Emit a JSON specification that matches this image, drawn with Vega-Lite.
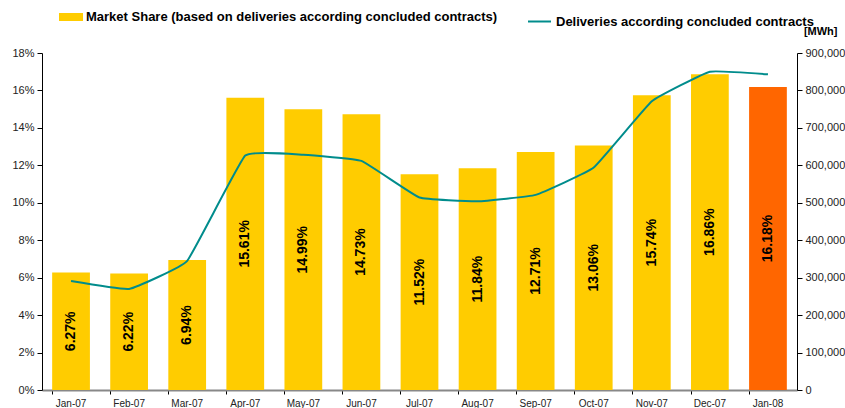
{
  "$schema": "https://vega.github.io/schema/vega-lite/v6.json",
  "autosize": "none",
  "width": 755,
  "height": 337,
  "padding": {"left": 42, "top": 53, "right": 48, "bottom": 18},
  "background": "white",
  "config": {
    "view": {"stroke": null},
    "font": "Liberation Sans",
    "axis": {"grid": false, "labelFont": "Liberation Sans", "labelColor": "#222", "tickColor": "#000", "domainColor": "#000"}
  },
  "data": {"values": [
    {"month": "Jan-07", "share": 0.0627, "deliveries": 291000},
    {"month": "Feb-07", "share": 0.0622, "deliveries": 270000},
    {"month": "Mar-07", "share": 0.0694, "deliveries": 345000},
    {"month": "Apr-07", "share": 0.1561, "deliveries": 626000},
    {"month": "May-07", "share": 0.1499, "deliveries": 628000},
    {"month": "Jun-07", "share": 0.1473, "deliveries": 612000},
    {"month": "Jul-07", "share": 0.1152, "deliveries": 514000},
    {"month": "Aug-07", "share": 0.1184, "deliveries": 504000},
    {"month": "Sep-07", "share": 0.1271, "deliveries": 521000},
    {"month": "Oct-07", "share": 0.1306, "deliveries": 594000},
    {"month": "Nov-07", "share": 0.1574, "deliveries": 771000},
    {"month": "Dec-07", "share": 0.1686, "deliveries": 850000},
    {"month": "Jan-08", "share": 0.1618, "deliveries": 843000}
  ]},
  "encoding": {
    "x": {
      "field": "month", "type": "nominal", "sort": null,
      "scale": {"paddingInner": 0.35, "paddingOuter": 0.175},
      "axis": {"title": null, "labelAngle": 0, "labelFontSize": 10, "bandPosition": 0, "tickSize": 4, "domainColor": "#888", "domainWidth": 2, "labelPadding": 4}
    }
  },
  "layer": [
    {
      "mark": {"type": "bar"},
      "encoding": {
        "y": {
          "field": "share", "type": "quantitative",
          "scale": {"domain": [0, 0.18]},
          "axis": {"title": null, "format": ".0%", "values": [0,0.02,0.04,0.06,0.08,0.1,0.12,0.14,0.16,0.18], "labelFontSize": 11, "tickSize": 5, "labelPadding": 3}
        },
        "color": {
          "datum": "Market Share (based on deliveries according concluded contracts)",
          "scale": {"range": ["#FFCC00"]},
          "condition": {"test": "datum.month === 'Jan-08'", "value": "#FF6600"},
          "legend": {
            "title": null, "orient": "none", "legendX": 21, "legendY": -44,
            "symbolType": "M-1.5,-0.5L1.5,-0.5L1.5,0.5L-1.5,0.5Z", "symbolSize": 256, "symbolStrokeWidth": 0,
            "labelFont": "Liberation Sans", "labelFontWeight": "bold", "labelFontSize": 13, "labelColor": "#000", "labelOffset": 7, "padding": 0, "labelLimit": 600
          }
        }
      }
    },
    {
      "mark": {"type": "text", "angle": 270, "font": "Liberation Sans", "fontWeight": "bold", "fontSize": 14, "color": "#000", "align": "center", "baseline": "middle"},
      "encoding": {
        "y": {"field": "share", "type": "quantitative", "scale": {"domain": [0, 0.36]}, "axis": null},
        "text": {"field": "share", "type": "quantitative", "format": ".2%"}
      }
    },
    {
      "mark": {"type": "line", "strokeWidth": 2, "interpolate": "cardinal", "tension": 0.7},
      "encoding": {
        "y": {
          "field": "deliveries", "type": "quantitative",
          "scale": {"domain": [0, 900000]},
          "axis": {"orient": "right", "title": "[MWh]", "titleAngle": 0, "titleX": 40, "titleY": -19, "titleAlign": "right", "titleBaseline": "alphabetic", "titleFontSize": 11, "titleFontWeight": "bold", "titleFont": "Liberation Sans", "titleColor": "#000", "format": ",d", "values": [0,100000,200000,300000,400000,500000,600000,700000,800000,900000], "labelFontSize": 11, "tickSize": 5, "labelPadding": 3}
        },
        "stroke": {
          "datum": "Deliveries according concluded contracts",
          "scale": {"range": ["#008C8C"]},
          "legend": {
            "title": null, "orient": "none", "legendX": 485, "legendY": -44,
            "symbolType": "stroke", "symbolSize": 529, "symbolStrokeWidth": 2,
            "labelFont": "Liberation Sans", "labelFontWeight": "bold", "labelFontSize": 13, "labelColor": "#000", "labelOffset": 4, "padding": 0, "labelLimit": 600
          }
        }
      }
    }
  ],
  "resolve": {"scale": {"y": "independent"}}
}
